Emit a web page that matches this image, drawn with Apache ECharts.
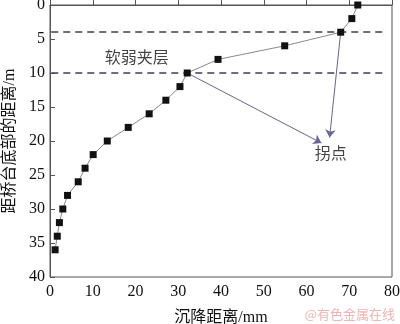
<!DOCTYPE html>
<html>
<head>
<meta charset="utf-8">
<style>
  html, body { margin: 0; padding: 0; background: #fff; }
  #chart { width: 400px; height: 324px; }
</style>
<script src="https://cdn.jsdelivr.net/npm/echarts@6/dist/echarts.min.js"></script>
</head>
<body>
<div id="chart"></div>
<script>
// Settlement (mm) measured at each depth below the abutment base (m)
var depth = [0, 2, 4, 6, 8, 10, 12, 14, 16, 18, 20, 22, 24, 26, 28, 30, 32, 34, 36];
var settlement = [72.0, 70.6, 68.0, 54.9, 39.3, 32.1, 30.4, 27.1, 23.2, 18.3, 13.4, 10.1, 8.2, 6.6, 4.1, 3.0, 2.2, 1.7, 1.2];

// Boundaries of the weak interlayer (m)
var layerBounds = [4, 10];
var layerSpan = [0.3, 78];

// Inflection points and where their pointers end
var bendPoints = [[32.1, 10], [68.0, 4]];
var pointerEnds = [[63.5, 20.3], [65.4, 19.5]];

// Annotation texts and anchors [x, y]
var noteTexts = ['软弱夹层', '拐点'];
var notePos = [[20.3, 7.9], [65.7, 22.0]];

var xTicks = { min: 0, max: 80, interval: 10 };
var yTicks = { min: 0, max: 40, interval: 5 };

var FONT = '"Liberation Serif", "Noto Sans CJK SC", serif';
var AX = '#555';

var chart = echarts.init(document.getElementById('chart'), null, { renderer: 'canvas' });

var option = {
  backgroundColor: '#fff',
  animation: false,
  grid: {
    left: 50, right: 8, top: 5, bottom: 47,
    outerBoundsMode: 'none',
    containLabel: false,
    show: true, borderColor: AX, borderWidth: 1, backgroundColor: 'transparent'
  },
  xAxis: {
    type: 'value',
    min: xTicks.min, max: xTicks.max, interval: xTicks.interval,
    name: '沉降距离/mm',
    nameLocation: 'middle',
    nameGap: 33,
    nameTextStyle: { fontFamily: FONT, fontSize: 16, color: '#111' },
    axisLine: { show: true, lineStyle: { color: AX, width: 1 } },
    axisTick: { show: true, inside: true, length: 5, lineStyle: { color: AX } },
    axisLabel: { fontFamily: FONT, fontSize: 16, color: '#111', margin: 7 },
    splitLine: { show: false }
  },
  yAxis: {
    type: 'value',
    inverse: true,
    min: yTicks.min, max: yTicks.max, interval: yTicks.interval,
    name: '距桥台底部的距离/m',
    nameLocation: 'middle',
    nameGap: 28,
    nameRotate: 90,
    nameTextStyle: { fontFamily: FONT, fontSize: 16, color: '#111' },
    axisLine: { show: true, lineStyle: { color: AX, width: 1 } },
    axisTick: { show: true, inside: true, length: 5, lineStyle: { color: AX } },
    axisLabel: { fontFamily: FONT, fontSize: 16, color: '#111', margin: 5 },
    splitLine: { show: false }
  },
  series: [
    {
      name: 'layer',
      type: 'lines',
      coordinateSystem: 'cartesian2d',
      silent: true,
      z: 1,
      lineStyle: { color: '#3c3c5a', width: 1.6, type: [7, 5], opacity: 1 },
      data: layerBounds.map(function (d) {
        return { coords: [[layerSpan[0], d], [layerSpan[1], d]] };
      })
    },
    {
      name: 'pointers',
      type: 'lines',
      coordinateSystem: 'cartesian2d',
      silent: true,
      z: 2,
      symbol: ['none', 'arrow'],
      symbolSize: [5, 8],
      lineStyle: { color: '#66668e', width: 1, opacity: 1 },
      data: bendPoints.map(function (p, i) {
        return { coords: [p, pointerEnds[i]] };
      })
    },
    {
      name: 'settlement',
      type: 'line',
      z: 3,
      data: depth.map(function (d, i) { return [settlement[i], d]; }),
      symbol: 'rect',
      symbolSize: 7,
      showAllSymbol: true,
      clip: false,
      lineStyle: { color: '#8a8a8a', width: 1 },
      itemStyle: { color: '#111' }
    },
    {
      name: 'notes',
      type: 'scatter',
      symbolSize: 0,
      silent: true,
      z: 4,
      data: notePos.map(function (p, i) { return { value: p, name: noteTexts[i] }; }),
      label: {
        show: true,
        position: 'inside',
        formatter: function (p) { return p.name; },
        fontFamily: FONT,
        fontSize: 16,
        color: '#111'
      }
    }
  ],
  graphic: [
    {
      type: 'text',
      right: 5,
      bottom: 3,
      style: {
        text: '@有色金属在线',
        fontFamily: '"Noto Sans CJK SC", sans-serif',
        fontSize: 13,
        fill: '#eeb4b4'
      }
    }
  ]
};

chart.setOption(option);
</script>
</body>
</html>
